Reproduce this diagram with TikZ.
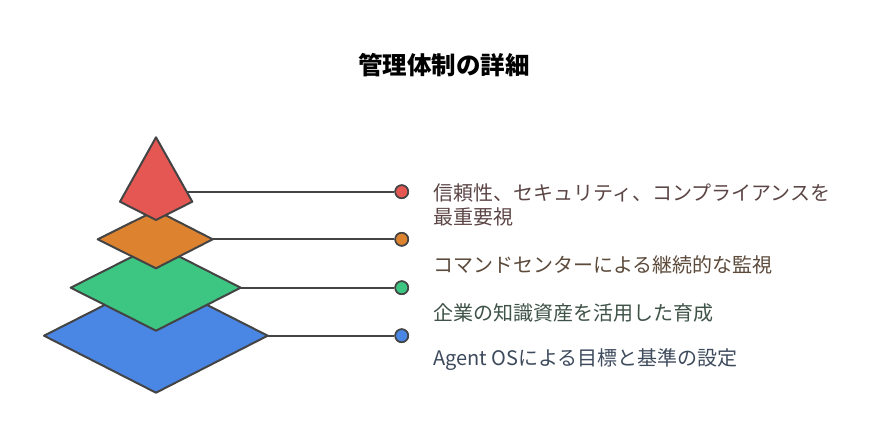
\documentclass[tikz,border=0pt]{standalone}
\usepackage{fontspec}
\setmainfont{Noto Sans CJK JP}
\usepackage{xcolor}
\usepackage{tikz}
\usetikzlibrary{calc}
\usetikzlibrary{positioning}
\definecolor{redfill}{HTML}{E55753}
\definecolor{orangefill}{HTML}{DD8330}
\definecolor{greenfill}{HTML}{3DC582}
\definecolor{bluefill}{HTML}{4A86E4}
\definecolor{edge}{HTML}{444444}
\definecolor{redtext}{HTML}{5C4545}
\definecolor{orangetext}{HTML}{5C4A3B}
\definecolor{greentext}{HTML}{3E5247}
\definecolor{bluetext}{HTML}{3D4A5C}
\tikzstyle{layer} = [draw=edge, line width=2pt, line join=round]
\tikzstyle{leader} = [-, draw=edge, line width=2pt]
\tikzstyle{dot} = [circle, draw=edge, line width=1.6pt, minimum size=13pt, inner sep=0]
\tikzstyle{label} = [draw=none, anchor=west, align=left, inner sep=0, font=\fontsize{20pt}{23.7pt}\selectfont]

\begin{document}
\begin{tikzpicture}[x=1pt, y=-1pt]
\useasboundingbox (0,0) rectangle (888,444);
\node [draw=none, font=\fontsize{24.5pt}{28pt}\selectfont\bfseries] (T) at (444, 65) {管理体制の詳細};
\coordinate (Rs) at (186.3, 191.7);
\coordinate (Os) at (212.7, 239.3);
\coordinate (Gs) at (240.7, 287.7);
\coordinate (Bs) at (267.7, 335.7);
\node [dot, fill=redfill]    (R) at (401.7, 191.7) {};
\node [dot, fill=orangefill] (O) at (401.7, 239.3) {};
\node [dot, fill=greenfill]  (G) at (401.7, 287.7) {};
\node [dot, fill=bluefill]   (B) at (401.7, 335.7) {};
\draw [leader] (Rs) to (R);
\draw [leader] (Os) to (O);
\draw [leader] (Gs) to (G);
\draw [leader] (Bs) to (B);
\draw [layer, fill=bluefill] (44, 335.7) -- (156, 279) -- (267.7, 335.7) -- (156, 392.7) -- cycle;
\draw [layer, fill=greenfill] (70.7, 287.7) -- (156, 244.7) -- (240.7, 287.7) -- (156, 330.7) -- cycle;
\draw [layer, fill=orangefill] (97.7, 239.3) -- (156, 210.3) -- (212.7, 239.3) -- (156, 268.3) -- cycle;
\draw [layer, fill=redfill] (156, 137.3) -- (192.3, 201.7) -- (156, 220) -- (120, 201.7) -- cycle;
\node [dot, fill=redfill]    at (R) {};
\node [dot, fill=orangefill] at (O) {};
\node [dot, fill=greenfill]  at (G) {};
\node [dot, fill=bluefill]   at (B) {};
\node [label, text=redtext]    (Rt) at (433, 205) {信頼性、セキュリティ、コンプライアンスを\\最重要視};
\node [label, text=orangetext] (Ot) at (433, 265) {コマンドセンターによる継続的な監視};
\node [label, text=greentext]  (Gt) at (433, 312.7) {企業の知識資産を活用した育成};
\node [label, text=bluetext]   (Bt) at (433, 359.3) {Agent OSによる目標と基準の設定};
\end{tikzpicture}
\end{document}
